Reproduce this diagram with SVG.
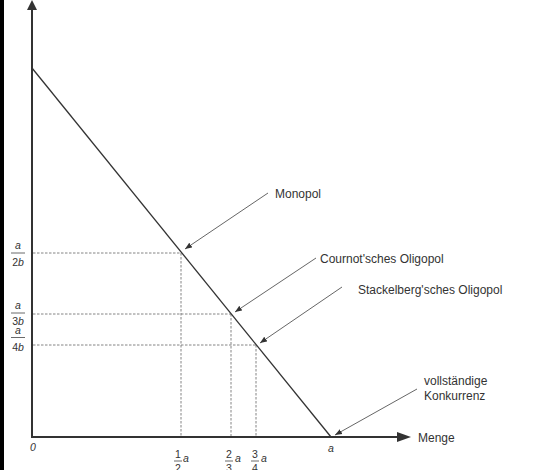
<svg xmlns="http://www.w3.org/2000/svg" width="534" height="470" viewBox="0 0 534 470">
<style>
text{font-family:"Liberation Sans",Arial,sans-serif;fill:#333;font-size:12px}
.it{font-style:italic}
.sm{font-size:10.5px}
.axis{stroke:#333;stroke-width:2;fill:none}
.dash{stroke:#777;stroke-width:0.9;stroke-dasharray:2.5,1.5;fill:none}
.ptr{stroke:#555;stroke-width:0.9;fill:none;marker-end:url(#ah)}
.frac{stroke:#444;stroke-width:0.8}
</style>
<defs>
<marker id="ah" viewBox="0 0 10 10" refX="10" refY="5" markerWidth="7" markerHeight="7" orient="auto" markerUnits="userSpaceOnUse">
<path d="M0,1 L10,5 L0,9 z" fill="#333"/>
</marker>
</defs>
<rect width="534" height="470" fill="#fff"/>
<rect x="0" y="0" width="4" height="470" fill="#000"/>
<g id="connectors">
<line class="dash" x1="33" y1="253" x2="181" y2="253"/>
<line class="dash" x1="181" y1="253" x2="181" y2="436"/>
<line class="dash" x1="33" y1="314" x2="231" y2="314"/>
<line class="dash" x1="231" y1="314" x2="231" y2="436"/>
<line class="dash" x1="33" y1="345" x2="256" y2="345"/>
<line class="dash" x1="256" y1="345" x2="256" y2="436"/>
<line x1="32" y1="68" x2="331" y2="437" stroke="#333" stroke-width="1.3"/>
<line class="ptr" x1="268" y1="193" x2="185" y2="249"/>
<line class="ptr" x1="316" y1="258" x2="235" y2="312"/>
<line class="ptr" x1="342" y1="287" x2="260" y2="343"/>
<line class="ptr" x1="417" y1="389" x2="335" y2="435"/>
</g>
<g id="axes">
<line class="axis" x1="32" y1="8" x2="32" y2="438"/>
<line class="axis" x1="31" y1="437" x2="400" y2="437"/>
<path d="M32,0 L37,10 L27,10 z" fill="#333"/>
<path d="M411,437 L397,432 L397,442 z" fill="#333"/>
</g>
<g id="labels-y">
<text x="18" y="249" class="it sm" text-anchor="middle">a</text>
<line class="frac" x1="11" y1="253" x2="25" y2="253"/>
<text x="18" y="266" class="sm" text-anchor="middle">2<tspan class="it">b</tspan></text>
<text x="18" y="309" class="it sm" text-anchor="middle">a</text>
<line class="frac" x1="11" y1="313" x2="25" y2="313"/>
<text x="18" y="325" class="sm" text-anchor="middle">3<tspan class="it">b</tspan></text>
<text x="18" y="334" class="it sm" text-anchor="middle">a</text>
<line class="frac" x1="11" y1="337.5" x2="25" y2="337.5"/>
<text x="18" y="351" class="sm" text-anchor="middle">4<tspan class="it">b</tspan></text>
</g>
<g id="labels-x">
<text x="33" y="451" class="it sm" text-anchor="middle">0</text>
<text x="331" y="452" class="it sm" text-anchor="middle">a</text>
<text x="418" y="442">Menge</text>
<text x="178" y="458" class="sm" text-anchor="middle">1</text>
<line class="frac" x1="174" y1="461" x2="182" y2="461"/>
<text x="178" y="472" class="sm" text-anchor="middle">2</text>
<text x="183" y="462" class="it sm">a</text>
<text x="229" y="458" class="sm" text-anchor="middle">2</text>
<line class="frac" x1="225" y1="461" x2="233" y2="461"/>
<text x="229" y="472" class="sm" text-anchor="middle">3</text>
<text x="235" y="462" class="it sm">a</text>
<text x="255" y="458" class="sm" text-anchor="middle">3</text>
<line class="frac" x1="251" y1="461" x2="259" y2="461"/>
<text x="255" y="472" class="sm" text-anchor="middle">4</text>
<text x="261" y="462" class="it sm">a</text>
</g>
<g id="monopol"><text x="275" y="198">Monopol</text></g>
<g id="cournot"><text x="320" y="263">Cournot'sches Oligopol</text></g>
<g id="stackelberg"><text x="358" y="294">Stackelberg'sches Oligopol</text></g>
<g id="konkurrenz"><text x="424" y="385">vollständige</text><text x="424" y="400">Konkurrenz</text></g>
</svg>
